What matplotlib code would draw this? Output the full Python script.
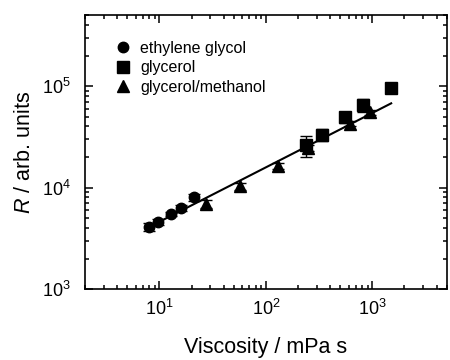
import numpy as np
import matplotlib
matplotlib.use("Agg")
import matplotlib.pyplot as plt

plt.rcParams['font.family'] = ['Liberation Sans', 'DejaVu Sans']
plt.rcParams['mathtext.fontset'] = 'custom'
plt.rcParams['mathtext.rm'] = 'Liberation Sans'
plt.rcParams['mathtext.it'] = 'Liberation Sans:italic'

# ethylene glycol
eg_visc = [7.9, 9.6, 12.8, 15.9, 21.2]
eg_R = [4100, 4600, 5450, 6300, 8000]
eg_err = [350, 350, 250, 400, 550]

# glycerol
gly_visc = [240, 336, 552, 820, 1480]
gly_R = [26000, 33000, 49500, 65000, 95000]
gly_err = [6000, 4500, 6500, 9000, 9000]

# glycerol/methanol mixtures
gm_visc = [27.6, 57.5, 130, 250, 615, 945]
gm_R = [6900, 10300, 16300, 24500, 42500, 55000]
gm_err = [600, 900, 1100, 1500, 2500, 3000]

# power-law fit, end points
fit_visc = [7.5, 1500]
fit_R = [3950, 67600]

fig = plt.figure(figsize=(4.5, 3.6), dpi=100)
ax = fig.add_axes([0.189, 0.197, 0.804, 0.761])

ax.plot(fit_visc, fit_R, '-', color='black', lw=1.5, zorder=2)

kw = dict(color='black', ecolor='black', elinewidth=1.0, capsize=4.5, capthick=1.0,
          linestyle='none', zorder=3)
ax.errorbar(eg_visc, eg_R, yerr=eg_err, marker='o', ms=7.5, label='ethylene glycol', **kw)
ax.errorbar(gly_visc, gly_R, yerr=gly_err, marker='s', ms=8, label='glycerol', **kw)
ax.errorbar(gm_visc, gm_R, yerr=gm_err, marker='^', ms=8.5, label='glycerol/methanol', **kw)

ax.set_xscale('log')
ax.set_yscale('log')
ax.set_xlim(2, 5000)
ax.set_ylim(1e3, 5e5)

ax.tick_params(which='both', direction='in', top=True, right=True, width=1.1, labelsize=13)
ax.tick_params(which='major', length=6)
ax.tick_params(which='minor', length=3)
ax.tick_params(axis='x', which='major', pad=7)
ax.tick_params(axis='y', which='major', pad=10)
for s in ax.spines.values():
    s.set_linewidth(1.2)

ax.set_xlabel('Viscosity / mPa s', fontsize=15.5, labelpad=13)
ax.set_ylabel('$R$ / arb. units', fontsize=15.5, labelpad=5)

handles, labels = ax.get_legend_handles_labels()
handles = [h[0] for h in handles]
ax.legend(handles, labels, loc='upper left', frameon=False, fontsize=11.5,
          handletextpad=0.5, handlelength=1.2, labelspacing=0.28,
          borderaxespad=0.0, bbox_to_anchor=(0.06, 0.93))

fig.savefig('out.png', dpi=100)
